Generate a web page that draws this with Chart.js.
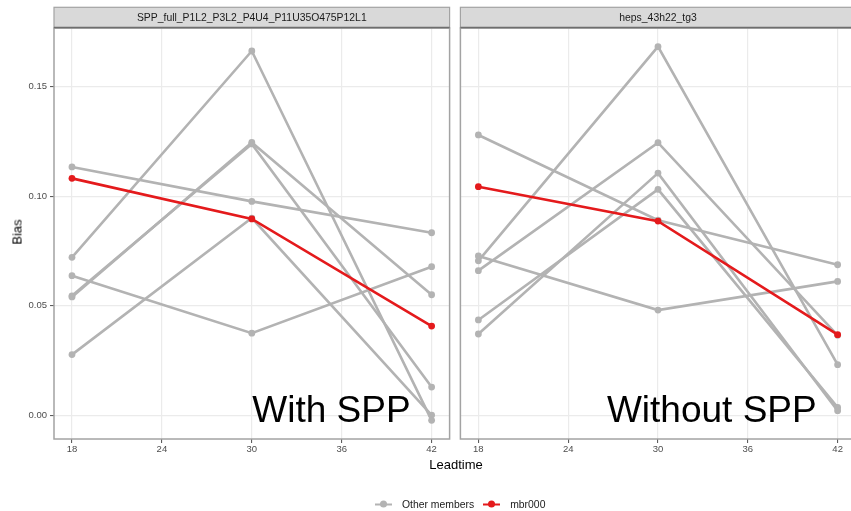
<!DOCTYPE html>
<html>
<head>
<meta charset="utf-8">
<script src="https://cdn.jsdelivr.net/npm/chart.js@4"></script>
<style>
  html, body { margin: 0; padding: 0; background: #fff; }
  body { width: 851px; height: 511px; position: relative; overflow: hidden; font-family: "Liberation Sans", Arial, sans-serif; }
  .panel { position: absolute; top: 0; height: 511px; }
  .axis-title { position: absolute; font-size: 13px; color: #000; white-space: nowrap; }
  #ytitle { left: 17px; top: 232px; transform: translate(-50%, -50%) rotate(-90deg); }
  #xtitle { left: 456px; top: 464px; transform: translate(-50%, -50%); }
  #legend { position: absolute; top: 504px; left: 375px; transform: translateY(-50%); display: flex; align-items: center; font-size: 10.4px; color: #1a1a1a; }
  .key { position: relative; width: 17px; height: 10px; margin-right: 10px; }
  .key .ln { position: absolute; left: 0; right: 0; top: 4px; height: 2.6px; }
  .key .pt { position: absolute; left: 5px; top: 1.6px; width: 7px; height: 7px; border-radius: 50%; }
  .lbl { margin-right: 9px; }
</style>
</head>
<body>
<div class="panel" id="p1" style="left:0;width:453px;"><canvas id="c1"></canvas></div>
<div class="panel" id="p2" style="left:457px;width:402px;"><canvas id="c2"></canvas></div>
<div class="axis-title" id="ytitle">Bias</div>
<div class="axis-title" id="xtitle">Leadtime</div>
<div id="legend">
  <div class="key"><div class="ln" style="background:#b3b3b3"></div><div class="pt" style="background:#b3b3b3"></div></div>
  <span class="lbl">Other members</span>
  <div class="key"><div class="ln" style="background:#e41a1c"></div><div class="pt" style="background:#e41a1c"></div></div>
  <span class="lbl">mbr000</span>
</div>
<script>
// Lead times (hours) shared by every member
const leadtimes = [18, 30, 42];

// Panel titles
const panelTitles = ["SPP_full_P1L2_P3L2_P4U4_P11U35O475P12L1", "heps_43h22_tg3"];
const panelNotes = ["With SPP", "Without SPP"];

// Bias per member, SPP run
const sppMbr000 = [0.1081, 0.0896, 0.0407];
const sppMbrA = [0.1133, 0.0976, 0.0833];
const sppMbrB = [0.0637, 0.0375, 0.0678];
const sppMbrC = [0.0721, 0.1662, -0.0023];
const sppMbrD = [0.0540, 0.1245, 0.0550];
const sppMbrE = [0.0545, 0.1238, 0.0129];
const sppMbrF = [0.0277, 0.0900, 0.0001];

// Bias per member, reference run without SPP
const hepsMbr000 = [0.1043, 0.0886, 0.0368];
const hepsMbrA = [0.1279, 0.0890, 0.0687];
const hepsMbrB = [0.0727, 0.0480, 0.0611];
const hepsMbrC = [0.0705, 0.1682, 0.0231];
const hepsMbrD = [0.0660, 0.1244, 0.0365];
const hepsMbrE = [0.0435, 0.1031, 0.0036];
const hepsMbrF = [0.0371, 0.1105, 0.0021];

// Axis breaks
const xBreaks = [18, 21, 24, 27, 30, 33, 36, 39, 42];
const xLabelled = [18, 24, 30, 36, 42];
const yBreaks = [0, 0.025, 0.05, 0.075, 0.1, 0.125, 0.15];
const yLabelled = [0, 0.05, 0.1, 0.15];

const FONT = "'Liberation Sans', Arial, sans-serif";
const GREY = "#b3b3b3";
const RED = "#e41a1c";

function isMajor(list, v) { return list.some(m => Math.abs(m - v) < 1e-9); }

function series(vals, colour, order) {
  return {
    data: leadtimes.map((x, i) => ({ x: x, y: vals[i] })),
    borderColor: colour,
    backgroundColor: colour,
    borderWidth: 2.6,
    pointRadius: 3.4,
    pointBorderWidth: 0,
    pointHoverRadius: 3.4,
    tension: 0,
    order: order
  };
}

// Facet strip, panel border and corner note
const facetDecor = {
  id: "facetDecor",
  afterDatasetsDraw(chart, args, opts) {
    const { ctx, chartArea: a, scales } = chart;
    ctx.save();
    // note text
    ctx.font = "37px " + FONT;
    ctx.fillStyle = "#000";
    ctx.textAlign = "right";
    ctx.textBaseline = "alphabetic";
    ctx.fillText(opts.note, scales.x.getPixelForValue(40.6), scales.y.getPixelForValue(-0.0029));
    // panel border
    ctx.strokeStyle = "#a3a3a3";
    ctx.lineWidth = 1.5;
    ctx.strokeRect(a.left, a.top, a.right - a.left, a.bottom - a.top);
    // strip
    const top = 7.3;
    ctx.fillStyle = "#d9d9d9";
    ctx.fillRect(a.left, top, a.right - a.left, a.top - top);
    ctx.strokeStyle = "#a3a3a3";
    ctx.lineWidth = 1.2;
    ctx.strokeRect(a.left, top, a.right - a.left, a.top - top);
    ctx.strokeStyle = "#6e6e6e";
    ctx.lineWidth = 1.6;
    ctx.beginPath();
    ctx.moveTo(a.left, a.top - 0.5);
    ctx.lineTo(a.right, a.top - 0.5);
    ctx.stroke();
    ctx.fillStyle = "#1a1a1a";
    ctx.font = "10.4px " + FONT;
    ctx.textAlign = "center";
    ctx.textBaseline = "middle";
    ctx.fillText(opts.title, scales.x.getPixelForValue(30), (top + a.top) / 2);
    ctx.restore();
  }
};

function makePanel(id, members, mbr000, title, note, showY) {
  const datasets = [series(mbr000, RED, 0)].concat(members.map(m => series(m, GREY, 1)));
  return new Chart(document.getElementById(id), {
    type: "line",
    data: { datasets: datasets },
    plugins: [facetDecor],
    options: {
      responsive: true,
      maintainAspectRatio: false,
      animation: false,
      events: [],
      layout: { padding: { top: 28, right: 1, left: showY ? 0 : 2, bottom: 0 } },
      plugins: {
        legend: { display: false },
        tooltip: { enabled: false },
        facetDecor: { title: title, note: note }
      },
      scales: {
        x: {
          type: "linear",
          min: 16.8,
          max: 43.2,
          afterBuildTicks: s => { s.ticks = xBreaks.map(v => ({ value: v })); },
          afterFit: s => { s.height = 72; },
          border: { display: false },
          grid: {
            color: c => isMajor(xLabelled, c.tick.value) ? "#ebebeb" : "#f4f4f4",
            lineWidth: c => isMajor(xLabelled, c.tick.value) ? 1.2 : 0.7,
            tickColor: c => isMajor(xLabelled, c.tick.value) ? "#4d4d4d" : "rgba(0,0,0,0)",
            tickLength: 4,
            tickWidth: 1
          },
          ticks: {
            autoSkip: false,
            maxRotation: 0,
            padding: 1,
            color: "#4d4d4d",
            font: { family: FONT, size: 9.5 },
            callback: v => isMajor(xLabelled, v) ? String(v) : null
          }
        },
        y: {
          type: "linear",
          min: -0.0108,
          max: 0.1767,
          afterBuildTicks: s => { s.ticks = yBreaks.map(v => ({ value: v })); },
          afterFit: s => { s.width = showY ? 54 : 0; },
          border: { display: false },
          grid: {
            color: c => isMajor(yLabelled, c.tick.value) ? "#ebebeb" : "#f4f4f4",
            lineWidth: c => isMajor(yLabelled, c.tick.value) ? 1.2 : 0.7,
            tickColor: c => isMajor(yLabelled, c.tick.value) ? "#4d4d4d" : "rgba(0,0,0,0)",
            drawTicks: showY,
            tickLength: 4,
            tickWidth: 1
          },
          ticks: {
            display: showY,
            autoSkip: false,
            padding: 3,
            color: "#4d4d4d",
            font: { family: FONT, size: 9.5 },
            callback: v => isMajor(yLabelled, v) ? v.toFixed(2) : null
          }
        }
      }
    }
  });
}

makePanel("c1", [sppMbrA, sppMbrB, sppMbrC, sppMbrD, sppMbrE, sppMbrF], sppMbr000, panelTitles[0], panelNotes[0], true);
makePanel("c2", [hepsMbrA, hepsMbrB, hepsMbrC, hepsMbrD, hepsMbrE, hepsMbrF], hepsMbr000, panelTitles[1], panelNotes[1], false);
</script>
</body>
</html>
